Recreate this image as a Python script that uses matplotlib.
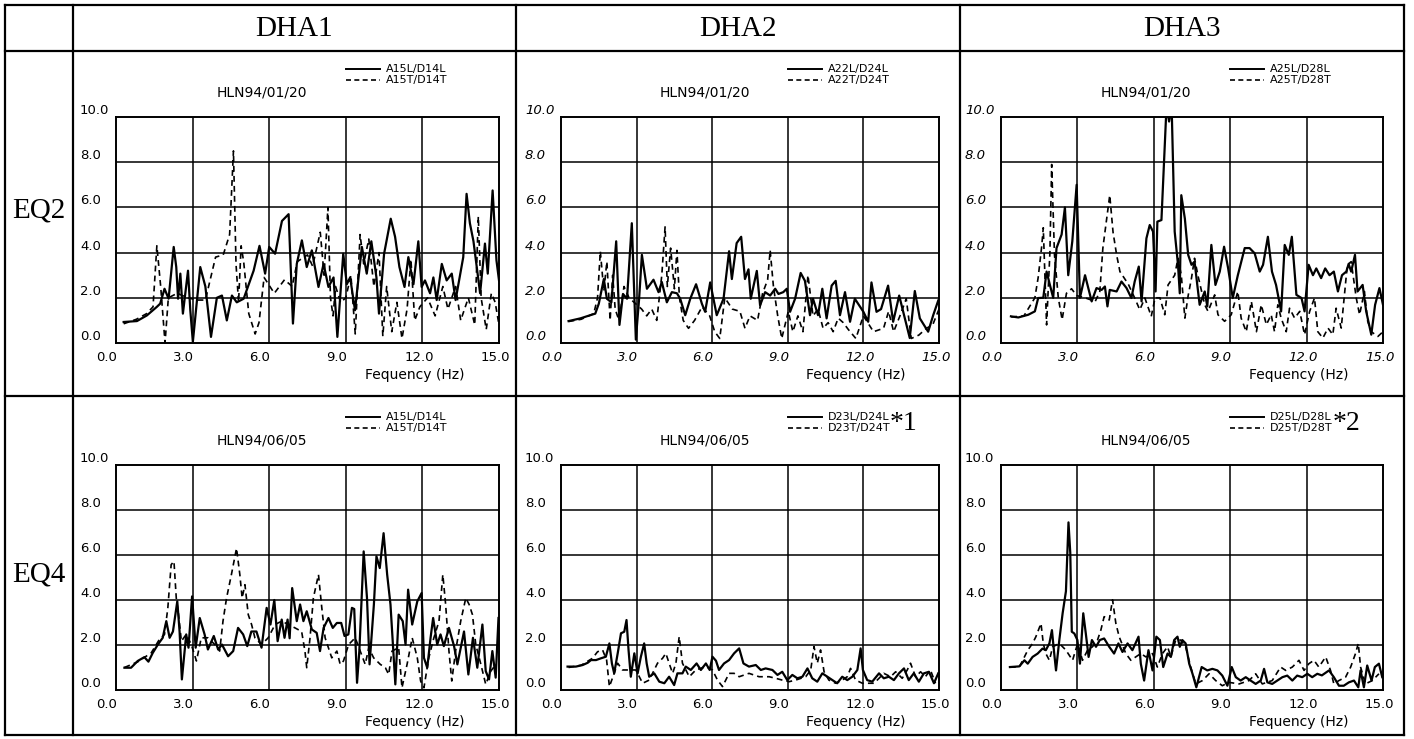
import matplotlib
matplotlib.use("Agg")
import matplotlib.pyplot as plt
from matplotlib.lines import Line2D

# column / row headers
col_names = ["DHA1", "DHA2", "DHA3"]
row_names = ["EQ2", "EQ4"]
event_dates = ["HLN94/01/20", "HLN94/06/05"]
legend_labels = [
    [("A15L/D14L", "A15T/D14T"), ("A22L/D24L", "A22T/D24T"), ("A25L/D28L", "A25T/D28T")],
    [("A15L/D14L", "A15T/D14T"), ("D23L/D24L", "D23T/D24T"), ("D25L/D28L", "D25T/D28T")],
]
notes = [["", "", ""], ["", "*1", "*2"]]
y_ticks = [0.0, 2.0, 4.0, 6.0, 8.0, 10.0]
x_ticks = [0.0, 3.0, 6.0, 9.0, 12.0, 15.0]

# spectral ratios, (frequency Hz, ratio)
eq2_dha1_L = [(0.3,0.93),(0.82,0.97),(1.21,1.22),(1.6,1.6),(1.73,1.74),(1.9,2.4),(2.06,1.96),(2.26,4.25),(2.36,3.36),(2.43,1.96),(2.52,3.07),(2.62,1.3),(2.82,3.2),(2.91,1.45),(3.01,0.05),(3.3,3.36),(3.5,2.5),(3.72,0.27),(3.95,2.0),(4.15,2.1),(4.34,1.0),(4.54,2.1),(4.73,1.8),(5.0,1.96),(5.39,3.2),(5.62,4.3),(5.84,3.07),(6.0,4.25),(6.23,3.95),(6.5,5.4),(6.76,5.7),(6.93,0.86),(7.08,3.5),(7.28,4.54),(7.47,3.36),(7.67,4.1),(7.93,2.48),(8.13,3.5),(8.32,2.48),(8.52,2.9),(8.67,0.27),(8.9,3.95),(9.04,2.6),(9.17,2.9),(9.36,1.45),(9.63,4.25),(9.82,3.07),(10.0,4.5),(10.2,2.9),(10.3,1.3),(10.5,3.95),(10.76,5.5),(10.93,4.7),(11.1,3.36),(11.3,2.48),(11.45,3.8),(11.65,2.6),(11.84,4.5),(11.97,2.48),(12.1,2.77),(12.3,2.2),(12.43,2.9),(12.56,1.9),(12.76,3.5),(12.95,2.77),(13.15,3.07),(13.3,1.9),(13.6,3.8),(13.73,6.6),(13.86,5.3),(14.0,4.5),(14.26,2.2),(14.45,4.4),(14.56,3.07),(14.75,6.75),(14.9,3.66),(15.0,2.77)]
eq2_dha1_T = [(0.3,0.85),(0.8,1.05),(1.2,1.3),(1.45,1.6),(1.6,4.3),(1.75,2.5),(1.92,0.0),(2.05,2.0),(2.4,2.2),(2.8,2.0),(3.2,1.9),(3.5,1.9),(3.9,3.8),(4.2,3.9),(4.45,4.8),(4.6,8.5),(4.7,3.5),(4.8,1.8),(4.9,4.3),(5.0,3.6),(5.2,1.3),(5.45,0.4),(5.6,0.9),(5.8,2.9),(6.2,2.2),(6.6,2.8),(6.9,2.5),(7.1,3.6),(7.5,3.9),(7.7,3.4),(8.0,4.9),(8.15,3.0),(8.3,6.0),(8.4,2.0),(8.5,1.2),(8.6,2.5),(8.8,1.8),(9.0,2.0),(9.2,3.0),(9.37,0.4),(9.56,4.8),(9.7,3.5),(9.9,4.6),(10.1,2.5),(10.3,4.0),(10.45,0.3),(10.6,2.5),(10.8,0.5),(11.0,1.8),(11.2,0.2),(11.4,1.5),(11.55,3.7),(11.7,1.0),(11.9,1.6),(12.2,2.0),(12.5,1.2),(12.8,2.5),(13.0,1.5),(13.3,2.5),(13.5,1.0),(13.8,2.0),(14.05,0.8),(14.19,5.6),(14.3,2.0),(14.5,0.6),(14.7,2.2),(14.85,1.8),(15.0,0.8)]

eq2_dha2_L = [(0.3,0.97),(0.77,1.09),(1.16,1.23),(1.36,1.3),(1.5,1.74),(1.7,2.83),(1.82,1.96),(2.0,1.8),(2.19,4.5),(2.32,0.8),(2.46,2.17),(2.62,1.96),(2.81,5.3),(2.97,0.15),(3.1,1.96),(3.21,3.9),(3.41,2.4),(3.67,2.8),(3.87,2.25),(4.0,2.7),(4.2,1.8),(4.4,2.25),(4.6,2.2),(4.73,1.96),(4.93,1.23),(5.13,1.96),(5.36,2.6),(5.59,1.74),(5.72,1.38),(5.92,2.68),(6.18,1.23),(6.45,1.96),(6.67,4.06),(6.78,2.83),(6.97,4.42),(7.15,4.7),(7.3,2.83),(7.44,3.26),(7.53,1.96),(7.77,3.19),(7.9,1.67),(8.1,2.25),(8.3,2.1),(8.5,2.4),(8.63,2.17),(8.82,2.25),(8.96,2.4),(9.09,1.38),(9.29,1.96),(9.51,3.1),(9.68,2.75),(9.88,1.23),(10.0,1.96),(10.2,1.23),(10.37,2.4),(10.54,1.09),(10.74,2.54),(10.9,2.75),(11.07,1.23),(11.27,2.25),(11.47,0.94),(11.66,1.96),(12.0,1.38),(12.19,0.94),(12.32,2.68),(12.52,1.38),(12.7,1.5),(12.98,2.54),(13.18,0.94),(13.42,2.1),(13.58,1.38),(13.84,0.22),(14.04,2.3),(14.24,1.09),(14.57,0.5),(14.77,1.23),(14.97,1.88)]
eq2_dha2_T = [(0.3,0.95),(0.8,1.05),(1.3,1.3),(1.45,2.0),(1.56,4.06),(1.7,2.3),(1.82,3.6),(1.95,1.0),(2.05,3.0),(2.15,1.5),(2.3,1.0),(2.5,2.5),(2.7,2.0),(3.2,1.5),(3.4,1.2),(3.6,1.5),(3.8,1.0),(4.0,3.0),(4.13,5.14),(4.22,2.5),(4.35,4.2),(4.5,2.4),(4.6,4.1),(4.7,2.0),(4.85,1.0),(5.06,0.65),(5.3,1.0),(5.6,1.6),(5.9,1.2),(6.1,0.5),(6.3,0.2),(6.5,2.0),(6.8,1.5),(7.1,1.4),(7.3,0.65),(7.5,1.2),(7.8,1.0),(8.0,2.2),(8.2,2.8),(8.3,4.1),(8.43,2.5),(8.6,1.2),(8.76,0.2),(9.02,1.4),(9.2,0.5),(9.4,1.2),(9.6,0.5),(9.8,3.0),(10.0,1.2),(10.2,1.5),(10.4,0.65),(10.6,0.9),(10.8,0.5),(11.0,1.1),(11.2,0.9),(11.4,0.6),(11.7,0.2),(12.0,1.2),(12.4,0.5),(12.8,0.65),(13.0,1.4),(13.2,0.5),(13.45,1.2),(13.7,1.96),(13.9,0.2),(14.2,0.35),(14.5,0.65),(14.75,0.8),(15.0,1.5)]

eq2_dha3_L = [(0.39,1.18),(0.68,1.13),(1.07,1.25),(1.33,1.4),(1.46,1.99),(1.66,2.0),(1.79,3.16),(1.92,2.57),(2.05,2.0),(2.18,4.2),(2.38,4.8),(2.51,6.0),(2.64,3.0),(2.8,4.5),(2.97,7.0),(3.1,2.0),(3.3,3.0),(3.56,1.84),(3.75,2.43),(3.95,2.35),(4.08,2.5),(4.18,1.62),(4.27,2.35),(4.54,2.28),(4.73,2.72),(4.93,2.43),(5.12,1.99),(5.25,2.72),(5.41,3.38),(5.52,1.84),(5.71,4.63),(5.84,5.22),(5.97,4.93),(6.07,2.28),(6.14,5.37),(6.3,5.44),(6.5,10.5),(6.6,9.8),(6.7,10.5),(6.82,4.93),(6.95,3.46),(7.02,2.2),(7.08,6.54),(7.22,5.5),(7.35,3.9),(7.48,3.46),(7.6,3.6),(7.8,1.69),(8.0,2.28),(8.1,1.62),(8.26,4.34),(8.42,2.57),(8.59,3.16),(8.76,4.26),(8.92,3.3),(9.1,1.99),(9.3,3.0),(9.57,4.2),(9.76,4.2),(9.96,3.97),(10.16,3.16),(10.29,3.46),(10.48,4.7),(10.64,3.16),(10.8,2.57),(11.0,1.4),(11.14,4.34),(11.3,3.9),(11.42,4.7),(11.6,2.13),(11.8,1.99),(11.92,1.4),(12.08,3.46),(12.25,3.0),(12.38,3.3),(12.57,2.87),(12.73,3.3),(12.9,3.0),(13.07,3.16),(13.23,2.28),(13.39,3.0),(13.56,3.16),(13.65,3.5),(13.75,3.16),(13.9,3.9),(14.0,2.28),(14.2,2.57),(14.34,1.4),(14.54,0.37),(14.69,1.69),(14.86,2.43),(15.0,1.69)]
eq2_dha3_T = [(0.4,1.15),(0.9,1.2),(1.33,2.0),(1.46,2.9),(1.6,4.3),(1.66,5.1),(1.79,0.8),(1.92,4.0),(1.99,7.9),(2.1,3.9),(2.25,2.0),(2.4,1.03),(2.57,2.2),(2.77,2.4),(2.97,2.1),(3.3,2.0),(3.7,1.84),(3.88,2.28),(4.0,4.2),(4.27,6.54),(4.4,4.9),(4.54,3.9),(4.67,3.16),(5.0,2.6),(5.25,1.99),(5.45,1.47),(5.65,1.99),(5.9,1.18),(6.05,2.0),(6.24,2.0),(6.43,1.25),(6.56,2.57),(6.82,3.0),(6.95,3.75),(7.08,3.0),(7.22,1.1),(7.35,2.1),(7.48,2.87),(7.6,3.75),(7.73,3.0),(8.0,1.69),(8.13,1.4),(8.39,2.13),(8.52,1.25),(8.78,0.96),(9.04,1.25),(9.3,2.28),(9.43,1.1),(9.63,0.5),(9.83,1.84),(10.03,0.5),(10.22,1.69),(10.42,0.81),(10.61,1.25),(10.74,0.5),(10.87,1.69),(11.0,1.1),(11.2,0.5),(11.33,1.54),(11.53,1.1),(11.73,1.4),(11.92,0.37),(12.12,1.4),(12.31,1.99),(12.44,0.5),(12.64,0.22),(12.84,0.66),(13.03,0.37),(13.16,1.54),(13.36,0.66),(13.6,3.46),(13.75,3.6),(13.95,1.99),(14.08,1.25),(14.27,2.28),(14.4,0.96),(14.54,0.5),(14.8,0.29),(15.0,0.5)]

eq4_dha1_L = [(0.33,0.99),(0.59,0.99),(0.85,1.29),(1.11,1.46),(1.27,1.26),(1.44,1.65),(1.64,2.02),(1.83,2.32),(1.97,3.06),(2.1,2.32),(2.23,2.6),(2.4,3.94),(2.49,2.6),(2.58,0.47),(2.75,2.47),(2.84,1.88),(2.98,4.16),(3.12,1.88),(3.28,3.2),(3.47,2.47),(3.6,1.8),(3.83,2.4),(4.0,1.8),(4.15,2.02),(4.39,1.5),(4.59,1.73),(4.78,2.76),(4.98,2.47),(5.14,1.95),(5.3,2.6),(5.5,2.6),(5.7,1.88),(5.9,3.65),(6.05,2.91),(6.2,4.0),(6.33,2.17),(6.49,3.13),(6.6,2.32),(6.72,3.13),(6.8,2.3),(6.9,4.53),(7.08,3.06),(7.21,3.8),(7.34,3.06),(7.47,3.5),(7.67,2.69),(7.86,2.54),(7.99,1.73),(8.13,2.76),(8.32,3.2),(8.49,2.76),(8.65,2.98),(8.82,2.98),(8.95,2.4),(9.1,2.47),(9.24,3.65),(9.33,3.6),(9.44,0.32),(9.53,1.73),(9.7,6.16),(9.83,4.09),(9.93,1.14),(10.1,3.8),(10.2,5.94),(10.33,5.42),(10.48,6.97),(10.62,5.13),(10.75,3.8),(10.94,0.25),(11.07,3.35),(11.23,3.06),(11.34,2.02),(11.44,4.46),(11.6,2.91),(11.8,3.94),(11.97,4.31),(12.06,1.43),(12.19,0.99),(12.32,2.32),(12.42,3.2),(12.58,2.02),(12.71,2.47),(12.84,1.95),(13.04,2.76),(13.24,1.95),(13.37,1.14),(13.63,2.6),(13.8,0.69),(13.98,2.32),(14.15,0.99),(14.35,2.91),(14.48,0.84),(14.61,0.47),(14.74,1.73),(14.87,0.55),(14.98,3.2)]
eq4_dha1_T = [(0.33,1.0),(0.85,1.25),(1.38,1.65),(1.7,2.25),(1.9,2.47),(2.03,3.65),(2.16,5.57),(2.27,5.72),(2.36,4.09),(2.45,3.35),(2.56,2.17),(2.75,2.47),(2.95,2.02),(3.15,1.29),(3.34,2.32),(3.6,2.32),(3.87,2.02),(4.06,1.73),(4.19,3.06),(4.33,4.09),(4.52,5.13),(4.72,6.3),(4.85,5.13),(4.94,4.09),(5.05,4.68),(5.18,3.35),(5.31,2.91),(5.44,2.32),(5.7,2.02),(5.96,2.32),(6.23,2.91),(6.49,3.06),(6.75,2.91),(7.01,2.76),(7.27,2.6),(7.4,1.73),(7.47,0.99),(7.6,2.32),(7.73,4.09),(7.93,5.13),(8.06,3.65),(8.19,2.32),(8.45,1.43),(8.65,1.73),(8.78,1.14),(8.91,1.29),(9.11,2.02),(9.37,2.32),(9.76,1.14),(9.9,1.88),(10.09,1.43),(10.35,1.14),(10.55,0.99),(10.68,0.69),(10.81,1.73),(11.07,1.88),(11.2,0.1),(11.4,1.14),(11.6,2.32),(11.8,1.43),(11.93,0.4),(12.06,0.1),(12.25,1.43),(12.45,2.32),(12.65,3.06),(12.8,5.13),(12.91,3.8),(13.04,1.73),(13.15,0.4),(13.3,1.73),(13.5,3.06),(13.7,4.09),(13.83,3.8),(13.96,3.35),(14.09,2.02),(14.29,1.14),(14.48,0.25),(14.68,0.84),(14.88,1.14)]

eq4_dha2_L = [(0.26,1.04),(0.59,1.04),(0.86,1.11),(1.06,1.21),(1.19,1.33),(1.39,1.33),(1.59,1.41),(1.78,1.48),(1.92,2.07),(2.02,1.18),(2.11,0.74),(2.25,1.63),(2.38,2.52),(2.51,2.59),(2.6,3.11),(2.68,1.78),(2.77,0.59),(2.91,1.63),(3.04,0.74),(3.17,1.48),(3.3,2.07),(3.4,1.18),(3.5,0.59),(3.7,0.74),(3.9,0.37),(4.1,0.3),(4.29,0.59),(4.49,0.22),(4.62,0.74),(4.82,0.74),(4.95,1.04),(5.15,0.89),(5.38,1.18),(5.55,0.89),(5.75,1.18),(5.9,0.89),(6.01,1.48),(6.15,1.3),(6.27,0.89),(6.47,1.18),(6.67,1.33),(6.87,1.63),(7.07,1.85),(7.24,1.18),(7.46,1.04),(7.73,1.11),(7.93,0.89),(8.12,0.96),(8.39,0.89),(8.59,0.67),(8.78,0.81),(8.98,0.44),(9.18,0.67),(9.38,0.52),(9.58,0.59),(9.78,0.96),(9.97,0.52),(10.17,0.37),(10.37,0.74),(10.57,0.59),(10.77,0.44),(10.96,0.3),(11.16,0.59),(11.36,0.44),(11.56,0.59),(11.76,0.89),(11.89,1.85),(11.98,0.89),(12.15,0.44),(12.35,0.37),(12.62,0.74),(12.81,0.52),(13.01,0.59),(13.21,0.44),(13.41,0.74),(13.61,0.96),(13.8,0.44),(14.0,0.74),(14.2,0.37),(14.4,0.74),(14.6,0.81),(14.8,0.3),(14.97,0.74)]
eq4_dha2_T = [(0.3,1.0),(0.8,1.1),(1.25,1.41),(1.45,1.7),(1.65,1.78),(1.81,1.33),(1.92,0.15),(2.11,0.74),(2.25,1.19),(2.44,0.89),(2.97,0.89),(3.24,0.3),(3.5,0.44),(3.83,1.19),(4.03,1.41),(4.16,1.63),(4.29,1.19),(4.43,0.74),(4.56,1.19),(4.69,2.37),(4.82,1.19),(5.09,0.59),(5.35,0.89),(5.75,1.04),(6.01,0.89),(6.21,0.44),(6.41,0.15),(6.67,0.74),(6.87,0.74),(7.07,0.59),(7.46,0.74),(7.86,0.59),(8.26,0.59),(8.52,0.52),(8.78,0.44),(9.05,0.37),(9.31,0.44),(9.71,0.59),(9.91,0.89),(10.04,1.93),(10.17,1.19),(10.3,1.78),(10.44,0.81),(10.63,0.44),(10.9,0.3),(11.16,0.44),(11.36,0.59),(11.49,0.96),(11.69,0.44),(11.96,0.3),(12.22,0.3),(12.42,0.3),(12.62,0.52),(12.81,0.74),(13.08,0.59),(13.28,0.81),(13.54,0.52),(13.74,0.89),(13.87,1.19),(14.07,0.59),(14.27,0.81),(14.46,0.59),(14.66,0.89),(14.86,0.3)]

eq4_dha3_L = [(0.35,1.02),(0.72,1.05),(0.92,1.32),(1.05,1.17),(1.24,1.47),(1.44,1.62),(1.63,1.84),(1.76,1.77),(1.9,2.07),(2.0,2.66),(2.09,1.62),(2.16,0.87),(2.29,2.22),(2.42,3.41),(2.55,4.39),(2.65,7.45),(2.72,6.1),(2.78,2.59),(2.88,2.51),(3.0,2.22),(3.1,1.17),(3.23,3.41),(3.33,2.51),(3.44,1.47),(3.57,2.22),(3.73,1.92),(3.88,2.22),(4.05,2.29),(4.25,1.92),(4.44,1.62),(4.61,2.07),(4.77,1.69),(4.97,2.07),(5.16,1.77),(5.4,2.37),(5.49,1.17),(5.62,0.42),(5.79,1.77),(5.95,0.87),(6.1,2.37),(6.24,2.22),(6.37,1.02),(6.54,1.62),(6.67,1.47),(6.8,2.22),(6.93,2.37),(7.02,1.92),(7.12,2.22),(7.25,2.07),(7.39,1.17),(7.52,0.72),(7.67,0.12),(7.88,1.02),(8.1,0.87),(8.3,0.94),(8.5,0.87),(8.69,0.64),(8.89,0.19),(9.06,1.02),(9.22,0.57),(9.41,0.42),(9.61,0.57),(9.8,0.42),(10.0,0.27),(10.2,0.42),(10.33,0.94),(10.46,0.34),(10.65,0.27),(10.85,0.42),(11.05,0.57),(11.24,0.64),(11.44,0.42),(11.63,0.64),(11.83,0.57),(12.03,0.72),(12.22,0.57),(12.42,0.72),(12.6,0.65),(12.88,0.87),(13.07,0.57),(13.27,0.19),(13.46,0.19),(13.66,0.34),(13.86,0.42),(14.03,0.12),(14.12,0.87),(14.25,0.12),(14.38,1.09),(14.55,0.42),(14.68,1.02),(14.84,1.17),(14.97,0.57)]
eq4_dha3_T = [(0.35,1.02),(0.72,1.02),(0.92,1.47),(1.05,1.77),(1.24,2.07),(1.37,2.37),(1.57,2.96),(1.66,2.07),(1.76,1.62),(1.9,1.32),(2.03,1.92),(2.29,2.07),(2.55,1.77),(2.81,1.32),(3.01,2.07),(3.2,1.32),(3.4,1.77),(3.59,1.92),(3.79,2.22),(3.92,2.66),(4.05,3.26),(4.25,3.11),(4.38,4.01),(4.51,2.96),(4.64,2.37),(4.9,1.62),(5.1,1.32),(5.29,1.47),(5.49,1.62),(5.69,1.47),(5.95,1.62),(6.14,1.02),(6.34,1.62),(6.54,1.92),(6.67,1.47),(6.86,2.22),(7.06,2.22),(7.25,1.92),(7.45,1.02),(7.65,0.27),(7.91,0.42),(8.17,0.72),(8.43,0.42),(8.69,0.19),(8.95,0.34),(9.35,0.27),(9.74,0.42),(10.0,0.72),(10.26,0.27),(10.65,0.42),(10.98,1.02),(11.18,0.87),(11.44,1.02),(11.7,1.32),(11.9,0.87),(12.09,1.17),(12.29,1.32),(12.48,1.02),(12.75,1.47),(12.94,0.87),(13.07,0.27),(13.27,0.42),(13.53,0.57),(13.73,1.02),(13.92,1.62),(14.03,2.07),(14.12,1.02),(14.31,0.27),(14.58,0.42),(14.84,0.72)]

series = [
    [(eq2_dha1_L, eq2_dha1_T), (eq2_dha2_L, eq2_dha2_T), (eq2_dha3_L, eq2_dha3_T)],
    [(eq4_dha1_L, eq4_dha1_T), (eq4_dha2_L, eq4_dha2_T), (eq4_dha3_L, eq4_dha3_T)],
]

W, H = 1414, 739
fig = plt.figure(figsize=(W / 100, H / 100), dpi=100)
fig.patch.set_facecolor("white")

def fx(px):
    return px / W

def fy(py):
    return 1 - py / H

serif = "Liberation Serif"
sans = "DejaVu Sans"

# table frame
tbl_x = [5, 73, 516, 960, 1404]
tbl_y = [5, 51, 396, 735]
for x in tbl_x:
    fig.add_artist(Line2D([fx(x), fx(x)], [fy(tbl_y[0]), fy(tbl_y[-1])], color="black", lw=1.6))
for y in tbl_y:
    fig.add_artist(Line2D([fx(tbl_x[0]), fx(tbl_x[-1])], [fy(y), fy(y)], color="black", lw=1.6))

for j, name in enumerate(col_names):
    fig.text(fx((tbl_x[j + 1] + tbl_x[j + 2]) / 2), fy(29), name, family=serif,
             fontsize=21, ha="center", va="center")
row_label_y = [210, 575]
for i, name in enumerate(row_names):
    fig.text(fx(39), fy(row_label_y[i]), name, family=serif,
             fontsize=21, ha="center", va="center")

cols = [(116, 499), (561, 939), (1001, 1383)]
rows = [(117, 343), (465, 690)]

for i, (top, bot) in enumerate(rows):
    for j, (left, right) in enumerate(cols):
        ax = fig.add_axes([fx(left), fy(bot), (right - left) / W, (bot - top) / H])
        ax.set_xlim(0, 15)
        ax.set_ylim(0, 10)
        ax.set_xticks([3, 6, 9, 12])
        ax.set_yticks([2, 4, 6, 8])
        ax.tick_params(length=0, labelbottom=False, labelleft=False)
        ax.grid(True, color="black", lw=1.1)
        for sp in ax.spines.values():
            sp.set_linewidth(1.4)

        sL, sT = series[i][j]
        fL, vL = zip(*sL)
        fT, vT = zip(*sT)
        ax.plot(fT, vT, color="black", lw=1.2, ls=(0, (3.5, 2.5)))
        ax.plot(fL, vL, color="black", lw=1.6)

        style = "italic" if (i == 0 and j > 0) else "normal"
        pw = right - left
        for v in y_ticks:
            ax.text(-36 / pw, v, f"{v:.1f}", transform=ax.get_yaxis_transform(),
                    ha="left", va="bottom", fontsize=9.5, family=sans, style=style)
        for v in x_ticks:
            lbl = f"{v:.1f}"
            dx = 0.45 if len(lbl) > 3 else 0.05
            ax.text(v + dx, -0.035, lbl, transform=ax.get_xaxis_transform(),
                    ha="right", va="top", fontsize=9.5, family=sans, style=style)
        ax.text(0.78, -0.11, "Fequency (Hz)", transform=ax.transAxes,
                ha="center", va="top", fontsize=10, family=sans)

        ax.text(0.38, 1.0 + 24 / (bot - top), event_dates[i], transform=ax.transAxes,
                ha="center", va="center", fontsize=10, family=sans)

        # legend drawn by hand, the two entries sit close together
        lx0 = left + 0.6 * pw
        gap = 11
        ly = top - 48 if i == 0 else top - 48
        labL, labT = legend_labels[i][j]
        for k, (lab, ls, lw) in enumerate([(labL, "-", 1.4), (labT, (0, (3, 2)), 1.2)]):
            yy = ly + k * gap
            fig.add_artist(Line2D([fx(lx0), fx(lx0 + 34)], [fy(yy), fy(yy)],
                                  color="black", lw=lw, ls=ls))
            fig.text(fx(lx0 + 40), fy(yy), lab, ha="left", va="center",
                     fontsize=8, family=sans)
        if notes[i][j]:
            fig.text(fx(lx0 + 102), fy(ly + gap / 2 + 1), notes[i][j], ha="left", va="center",
                     fontsize=20, family=serif)

fig.savefig("out.png", dpi=100)
